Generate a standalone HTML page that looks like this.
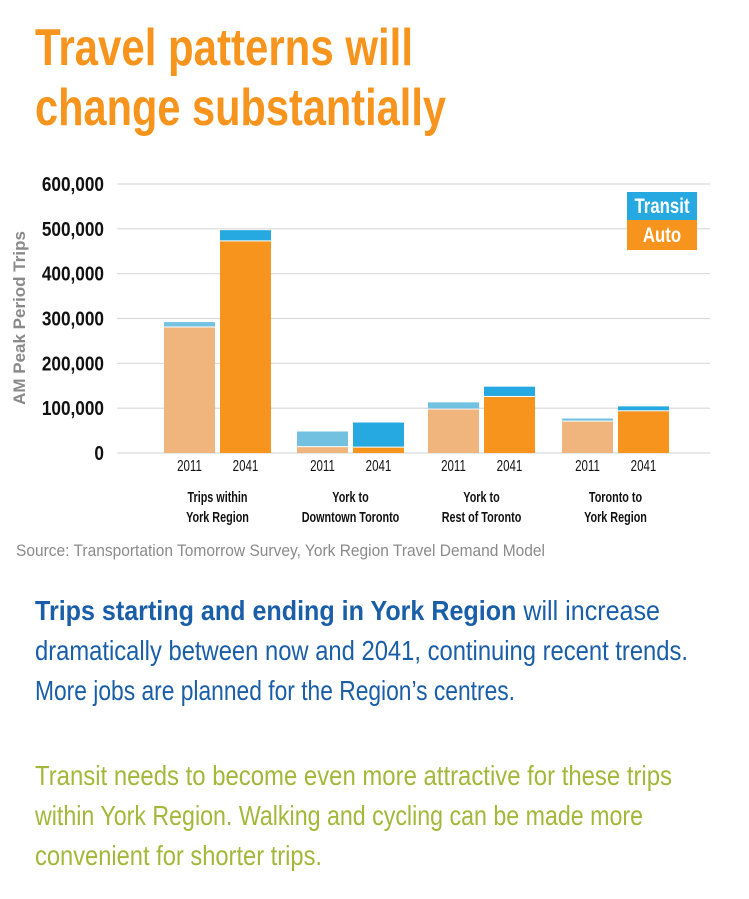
<!DOCTYPE html>
<html><head><meta charset="utf-8">
<style>
body{margin:0;width:749px;height:899px;background:#fff;overflow:hidden;position:relative;font-family:"Liberation Sans Narrow","Liberation Sans",sans-serif}
.fit{position:absolute;white-space:nowrap;transform-origin:0 0;line-height:1}
.t{color:#f7941d;font-weight:bold;font-size:52px}
.b{color:#1a5ea8;font-size:28px}
.g{color:#a3b83a;font-size:28px}
svg{position:absolute;left:0;top:0}
svg text{font-family:"Liberation Sans Narrow","Liberation Sans",sans-serif}
</style></head><body>
<div class="fit t" data-w="378" style="left:35px;top:22px">Travel patterns will</div>
<div class="fit t" data-w="411" style="left:35px;top:82px">change substantially</div>

<svg id="chart" width="749" height="560"></svg>

<div class="fit" data-w="529" style="left:16px;top:542px;font-size:17px;color:#8a8a8a">Source: Transportation Tomorrow Survey, York Region Travel Demand Model</div>

<div class="fit b" data-w="625" style="left:35px;top:597px"><b>Trips starting and ending in York Region</b> will increase</div>
<div class="fit b" data-w="653" style="left:35px;top:637px">dramatically between now and 2041, continuing recent trends.</div>
<div class="fit b" data-w="480" style="left:35px;top:677px">More jobs are planned for the Region’s centres.</div>

<div class="fit g" data-w="637" style="left:35px;top:762px">Transit needs to become even more attractive for these trips</div>
<div class="fit g" data-w="608" style="left:35px;top:802px">within York Region. Walking and cycling can be made more</div>
<div class="fit g" data-w="287" style="left:35px;top:842px">convenient for shorter trips.</div>

<script>
const categories=[["Trips within","York Region"],["York to","Downtown Toronto"],["York to","Rest of Toronto"],["Toronto to","York Region"]];
const years=["2011","2041"];
const auto2011=[280000,13000,97000,70000];
const transit2011=[12000,35000,16000,7000];
const auto2041=[472000,12000,125000,93000];
const transit2041=[25000,56000,23000,11000];
const yTicks=[0,100000,200000,300000,400000,500000,600000];
const yTickLabels=["0","100,000","200,000","300,000","400,000","500,000","600,000"];

const NS="http://www.w3.org/2000/svg";
const svg=document.getElementById('chart');
const y0=453,yTop=184,yMax=600000;
const y=v=>y0-(v/yMax)*(y0-yTop);
const groupX=[164,297,428,562],barW=51,gap=56;
function mk(tag,attrs){const e=document.createElementNS(NS,tag);for(const k in attrs)e.setAttribute(k,attrs[k]);svg.appendChild(e);return e;}
function squeeze(e,f){const w=e.getComputedTextLength();if(w>0){e.setAttribute('textLength',w*f);e.setAttribute('lengthAdjust','spacingAndGlyphs');}}
yTicks.forEach((t,i)=>{
  const l=mk('line',{x1:117,x2:710,y1:y(t),y2:y(t),stroke:'#d9d9d9','stroke-width':1.2});
  
  
  const tx=mk('text',{x:104,y:y(t)+7,'text-anchor':'end','font-size':20,'font-weight':'bold',fill:'#111'});
  tx.textContent=yTickLabels[i];
  
  
  squeeze(tx,0.86);
});
const yt=mk('text',{x:0,y:0,transform:'translate(25,318) rotate(-90)','text-anchor':'middle','font-size':17,'font-weight':'bold',fill:'#8a8a8a'});
yt.textContent='AM Peak Period Trips';


const series=[[auto2011,transit2011,'#efb57c','#72c1e0'],[auto2041,transit2041,'#f7941d','#25a9e0']];
categories.forEach((c,i)=>{
  series.forEach((s,j)=>{
    const x=groupX[i]+j*gap;
    const a=s[0][i],tr=s[1][i];
    const ra=mk('rect',{x:x,y:y(a),width:barW,height:y0-y(a),fill:s[2]});
    
    
    const rt=mk('rect',{x:x,y:y(a+tr),width:barW,height:y(a)-y(a+tr)-1,fill:s[3]});
    
    
    const yl=mk('text',{x:x+barW/2,y:471,'text-anchor':'middle','font-size':16,fill:'#111'});
    yl.textContent=years[j];
    
    
    squeeze(yl,0.72);
  });
  c.forEach((line,k)=>{
    const cl=mk('text',{x:groupX[i]+(barW+gap)/2,y:502+k*20,'text-anchor':'middle','font-size':15,'font-weight':'bold',fill:'#111'});
    cl.textContent=line;
    
    
    squeeze(cl,0.72);
  });
});
const lb1=mk('rect',{x:627,y:192,width:70,height:28,fill:'#25a9e0'});


const lb2=mk('rect',{x:627,y:220,width:70,height:30,fill:'#f7941d'});


const lt1=mk('text',{x:662,y:213,'text-anchor':'middle','font-size':21,'font-weight':'bold',fill:'#fff'});
lt1.textContent='Transit';


squeeze(lt1,0.8);
const lt2=mk('text',{x:662,y:242,'text-anchor':'middle','font-size':21,'font-weight':'bold',fill:'#fff'});
lt2.textContent='Auto';


squeeze(lt2,0.8);

document.querySelectorAll('.fit').forEach(el=>{
  const w=el.getBoundingClientRect().width,t=+el.dataset.w;
  if(w>0)el.style.transform='scaleX('+(t/w)+')';
});
</script>
</body></html>
